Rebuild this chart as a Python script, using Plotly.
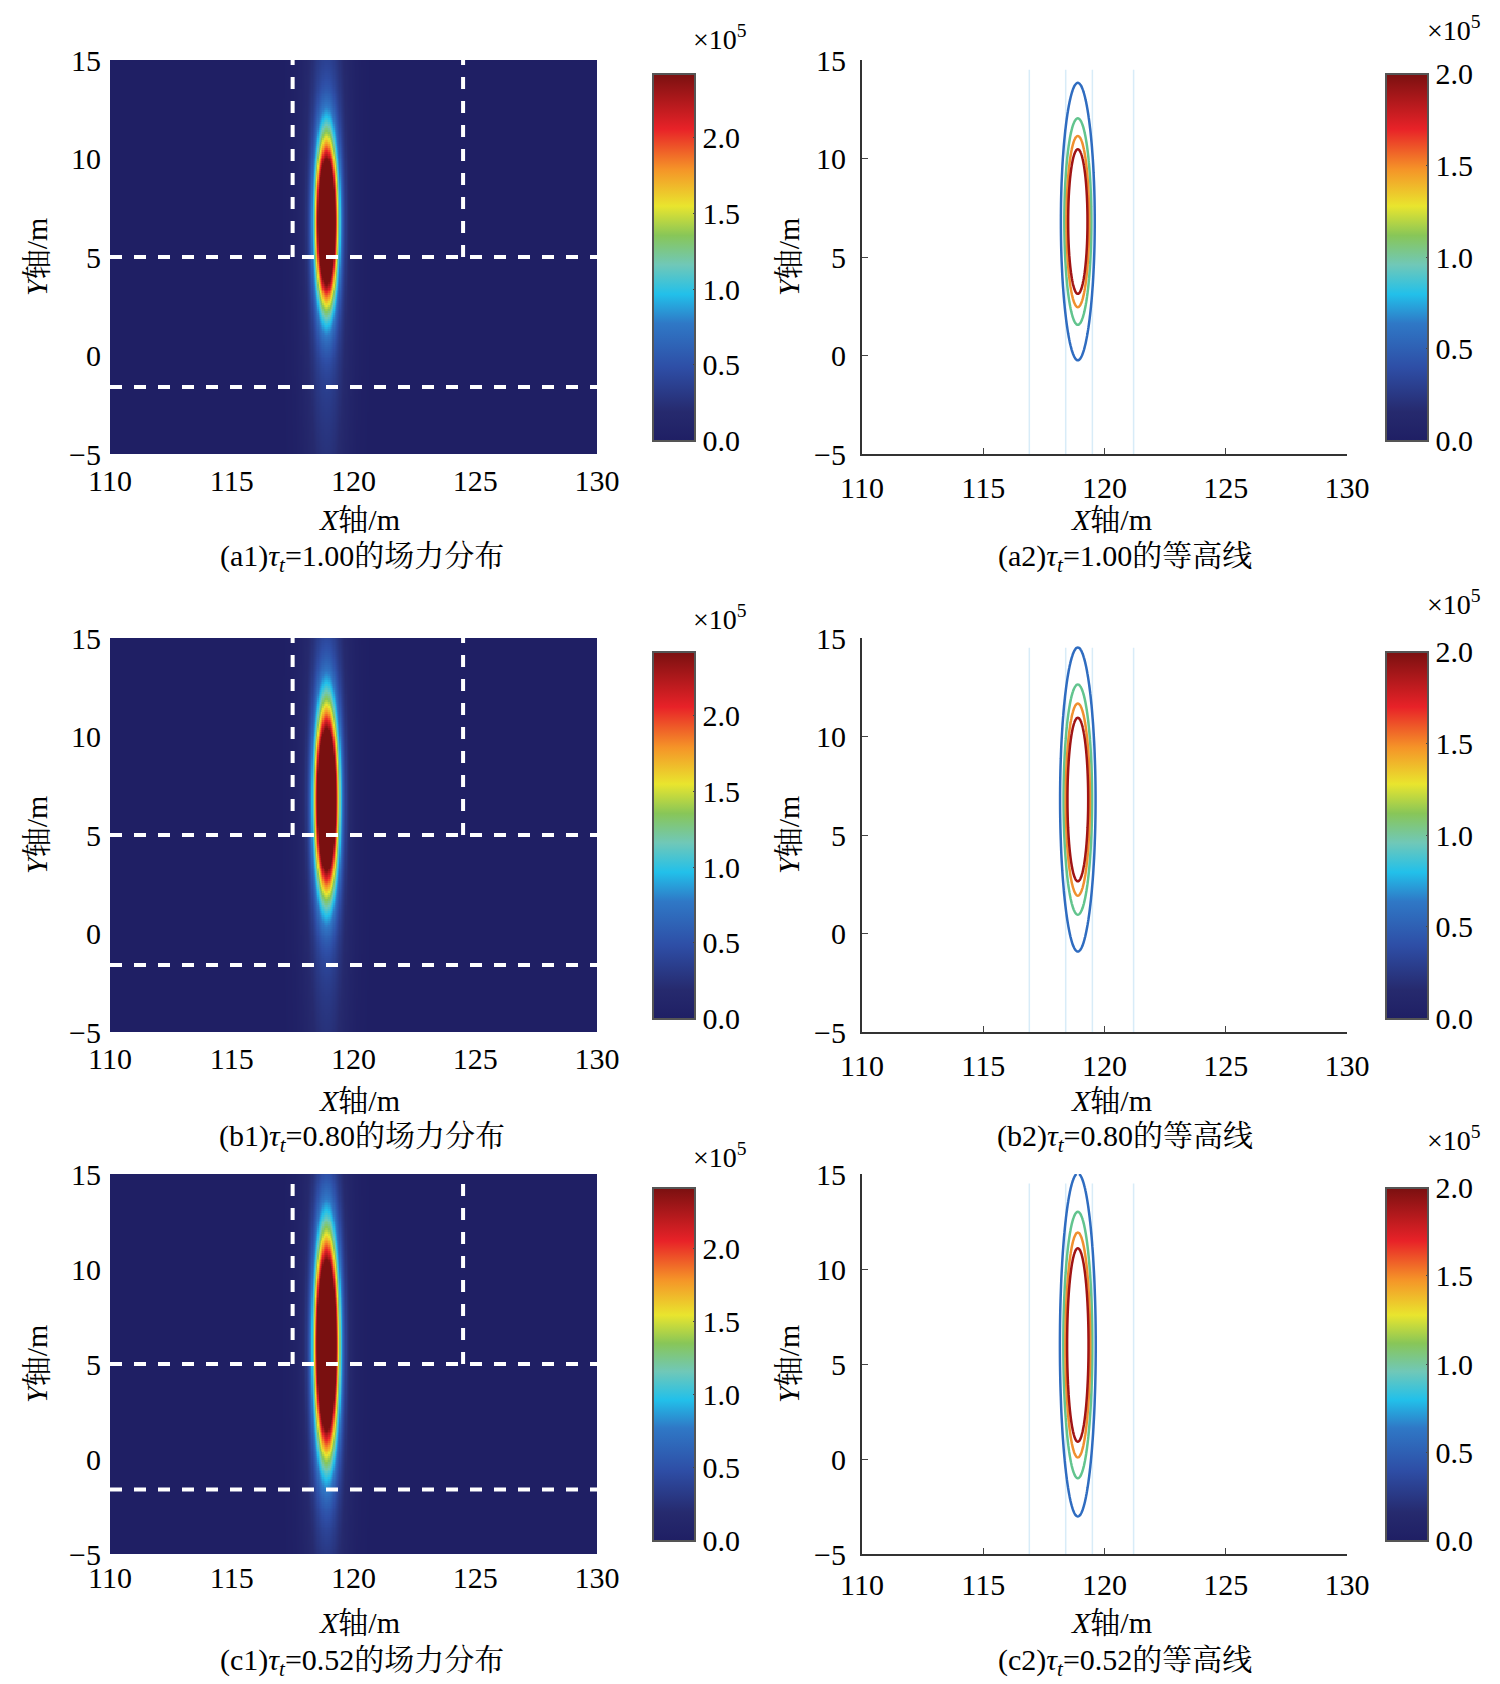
import numpy as np
import plotly.graph_objects as go

# data / parameters
rows = ["a", "b", "c"]
tau = ["1.00", "0.80", "0.52"]
peak = [4.0, 4.2, 4.5]          # x1e5
center_x = [118.9, 118.9, 118.9]
center_y = [6.8, 6.8, 6.0]
sigma_x = [0.42, 0.44, 0.44]
sigma_y = [3.8, 4.2, 5.0]
halo = [0.45, 0.45, 0.45]
x_ticks = [110, 115, 120, 125, 130]
y_ticks = [-5, 0, 5, 10, 15]
cb_ticks = [0.0, 0.5, 1.0, 1.5, 2.0]
contour_levels = [0.5, 1.0, 1.5, 2.0]
contour_colors = ['#2f6cc0', '#62c48e', '#f09030', '#a01414']
dash_h = [5.0, -1.6]
dash_v = [117.5, 124.5]
faint_v = [116.9, 118.4, 119.5, 121.2]

xs = np.linspace(110, 130, 401)
ys = np.linspace(-5, 15, 201)
X, Y = np.meshgrid(xs, ys)

jet = [[0, '#1f1f64'], [0.08, '#262a6e'], [0.2, '#2e4ea6'], [0.32, '#2f78c6'],
       [0.4, '#22c0ea'], [0.48, '#70c8b8'], [0.56, '#88c658'], [0.64, '#e9e52e'],
       [0.74, '#f59428'], [0.85, '#e82228'], [1, '#7a1010']]

FONT = "Liberation Serif, Noto Serif CJK SC, Noto Sans CJK SC"
W, H = 1500, 1684
ML, MR, MT, MB = 70, 70, 40, 10
PW, PH = W - ML - MR, H - MT - MB
def fx(p): return (p - ML) / PW
def fy(p): return 1 - (p - MT) / PH

fig = go.Figure()
row_px = [(52, 446), (630, 1024), (1166, 1546)]
title_px = [512, 1092, 1614]
cap_px = [550, 1130, 1654]
xlab_px = [30, 610, 1147]
xlab_r_px = [21, 594, 1130]
LX = (fx(102), fx(589)); RX = (fx(854), fx(1339))
ann = []; shapes = []
tf = dict(family=FONT, size=30, color='black')

def cbar(xpx, y0, y1):
    return dict(x=fx(xpx), xanchor='left', y=y0, yanchor='bottom', len=y1 - y0, lenmode='fraction',
                thickness=42, outlinewidth=2, outlinecolor='#555', tickvals=cb_ticks,
                ticktext=[f"{v:.1f}" for v in cb_ticks], ticks='inside', ticklen=3, tickfont=tf)

for i in range(3):
    y0 = fy(row_px[i][1]); y1 = fy(row_px[i][0])
    Z = peak[i] * np.exp(-((X - center_x[i]) / sigma_x[i]) ** 2 - ((Y - center_y[i]) / sigma_y[i]) ** 2) \
        + halo[i] * np.exp(-((X - center_x[i]) / 0.9) ** 2 - ((Y - center_y[i]) / 16) ** 2)
    xl = f"x{2*i+1}" if i else "x"; yl = f"y{2*i+1}" if i else "y"
    xr = f"x{2*i+2}"; yr = f"y{2*i+2}"
    fig.add_trace(go.Heatmap(x=xs, y=ys, z=Z, zmin=0, zmax=2.42, colorscale=jet, xaxis=xl, yaxis=yl,
                             colorbar=cbar(635, y0 + 0.002, y1 - 0.002)))
    for lev, col in zip(contour_levels, contour_colors):
        fig.add_trace(go.Contour(x=xs, y=ys, z=Z, xaxis=xr, yaxis=yr, autocontour=False,
                                 contours=dict(coloring='none', start=lev, end=lev, size=1),
                                 line=dict(width=2.5, color=col), showscale=False))
    fig.add_trace(go.Scatter(x=[None], y=[None], mode='markers', xaxis=xr, yaxis=yr,
                             marker=dict(color=[0, 2], cmin=0, cmax=2, colorscale=jet, showscale=True,
                                         colorbar=cbar(1368, y0 + 0.002, y1 - 0.002))))
    ax = dict(range=[110, 130], tickvals=x_ticks, tickfont=tf, showgrid=False, zeroline=False,
              ticklabelstandoff=6 if i < 2 else 3)
    ay = dict(range=[-5, 15], tickvals=y_ticks, ticktext=["−5" if v < 0 else str(v) for v in y_ticks],
              tickfont=tf, showgrid=False, zeroline=False, ticklabelstandoff=8)
    k = 2 * i + 1
    fig.update_layout(**{
        f"xaxis{'' if k == 1 else k}": dict(ax, domain=list(LX), anchor=yl, ticks=''),
        f"yaxis{'' if k == 1 else k}": dict(ay, domain=[y0, y1], anchor=xl, ticks=''),
        f"xaxis{k+1}": dict(ax, domain=list(RX), anchor=yr, ticks='inside', ticklen=6, showline=True, linecolor='#333', linewidth=2),
        f"yaxis{k+1}": dict(ay, domain=[y0, y1], anchor=xr, ticks='inside', ticklen=6, showline=True, linecolor='#333', linewidth=2),
    })
    for h in dash_h:
        shapes.append(dict(type='line', xref=xl, yref=yl, x0=110, x1=130, y0=h, y1=h, line=dict(color='white', width=4, dash='dash')))
    for v in dash_v:
        shapes.append(dict(type='line', xref=xl, yref=yl, x0=v, x1=v, y0=5, y1=15, line=dict(color='white', width=4, dash='dash')))
    for v in faint_v:
        shapes.append(dict(type='line', xref=xr, yref=yr, x0=v, x1=v, y0=-5, y1=14.5, line=dict(color='#d8ecf8', width=1.5), layer='below'))
    for tx, cx, lab, n in [(351, 354, "场力分布", 1), (1103, 1117, "等高线", 2)]:
        ann.append(dict(xref='paper', yref='paper', x=fx(tx), y=fy(title_px[i]), xanchor='center', yanchor='middle',
                        text="<i>X</i>轴/m", showarrow=False, font=tf))
        ann.append(dict(xref='paper', yref='paper', x=fx(cx), y=fy(cap_px[i]), xanchor='center', yanchor='middle',
                        text=f"({rows[i]}{n})<i>τ<sub>t</sub></i>={tau[i]}的{lab}", showarrow=False, font=tf))
    for xpx in [28, 780]:
        ann.append(dict(xref='paper', yref='paper', x=fx(xpx), y=(y0 + y1) / 2, xanchor='center', yanchor='middle',
                        text="<i>Y</i>轴/m", textangle=-90, showarrow=False, font=tf))
    for cbx, cy in [(712, xlab_px[i]), (1446, xlab_r_px[i])]:
        ann.append(dict(xref='paper', yref='paper', x=fx(cbx), y=fy(cy), xanchor='center', yanchor='middle',
                        text="×10<sup>5</sup>", showarrow=False, font=dict(family=FONT, size=28, color='black')))

fig.update_layout(width=W, height=H, margin=dict(l=ML, r=MR, t=MT, b=MB, autoexpand=False), plot_bgcolor='white',
                  paper_bgcolor='white', showlegend=False, annotations=ann, shapes=shapes)
fig.write_html("out.html")
